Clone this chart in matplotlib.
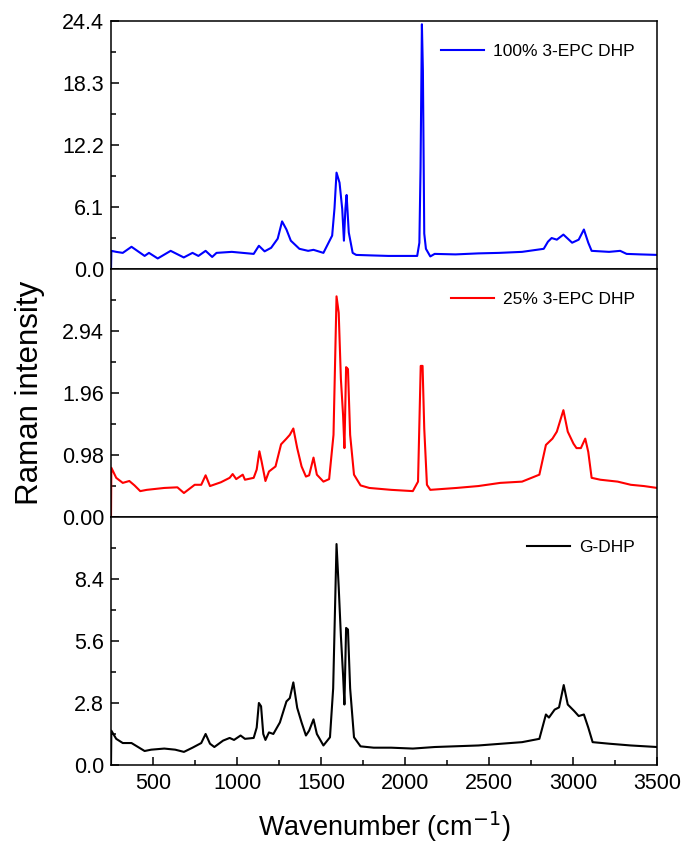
import matplotlib
matplotlib.use("Agg")
import matplotlib.pyplot as plt
from matplotlib.ticker import FixedLocator, FormatStrFormatter

plt.rcParams["font.family"] = ["Liberation Sans", "DejaVu Sans"]

# 100% 3-EPC DHP (blue)
wn_epc100 = [250, 252, 281, 320, 372, 450, 476, 528, 605, 683, 735, 770, 813, 852, 878,
             969, 1034, 1099, 1130, 1164, 1203, 1242, 1268, 1294, 1320, 1371, 1423, 1455,
             1514, 1566, 1580, 1592, 1610, 1626, 1636, 1645, 1652, 1665, 1688, 1709, 1800, 1900,
             2000, 2072, 2085, 2092, 2100, 2106, 2114, 2124, 2150, 2176, 2300, 2436, 2560,
             2696, 2825, 2850, 2872, 2903, 2942, 2994, 3033, 3064, 3090, 3110, 3214, 3280, 3318,
             3400, 3500]
int_epc100 = [0.0, 1.8, 1.7, 1.6, 2.2, 1.3, 1.6, 1.05, 1.8, 1.15, 1.6, 1.3, 1.8, 1.2, 1.6,
              1.7, 1.6, 1.5, 2.3, 1.75, 2.1, 3.0, 4.7, 3.9, 2.8, 2.0, 1.8, 1.9,
              1.6, 3.3, 6.0, 9.5, 8.5, 5.9, 2.8, 6.0, 7.3, 3.6, 1.6, 1.4, 1.35, 1.3,
              1.3, 1.3, 2.6, 10.0, 24.1, 19.5, 3.5, 2.0, 1.25, 1.5, 1.45, 1.55, 1.6,
              1.7, 2.0, 2.7, 3.06, 2.9, 3.4, 2.6, 2.9, 3.9, 2.6, 1.8, 1.7, 1.8, 1.5,
              1.45, 1.4]

# 25% 3-EPC DHP (red)
wn_epc25 = [250, 252, 281, 320, 359, 390, 424, 463, 567, 645, 684, 748, 787, 813, 839, 904,
            956, 974, 995, 1034, 1047, 1099, 1117, 1133, 1146, 1169, 1190, 1229, 1262, 1294,
            1314, 1335, 1358, 1384, 1410, 1429, 1455, 1475, 1514, 1548, 1574, 1592, 1605,
            1618, 1631, 1639, 1649, 1660, 1673, 1696, 1735, 1787, 1917, 2046, 2077, 2093,
            2104, 2114, 2130, 2150, 2306, 2436, 2566, 2696, 2799, 2838, 2877, 2903, 2942,
            2968, 3002, 3020, 3046, 3072, 3090, 3110, 3162, 3265, 3343, 3421, 3500]
int_epc25 = [0.0, 0.78, 0.62, 0.54, 0.57, 0.5, 0.41, 0.43, 0.46, 0.47, 0.38, 0.51, 0.51, 0.66, 0.49, 0.55,
             0.62, 0.68, 0.6, 0.67, 0.59, 0.62, 0.75, 1.04, 0.88, 0.57, 0.72, 0.8, 1.15, 1.24,
             1.3, 1.4, 1.09, 0.8, 0.64, 0.66, 0.94, 0.67, 0.56, 0.6, 1.3, 3.49, 3.23,
             2.18, 1.61, 1.09, 2.37, 2.34, 1.3, 0.67, 0.5, 0.46, 0.43, 0.41, 0.56, 2.39,
             2.39, 1.4, 0.51, 0.43, 0.46, 0.49, 0.54, 0.56, 0.67, 1.14, 1.24, 1.35, 1.69,
             1.35, 1.16, 1.09, 1.09, 1.24, 1.03, 0.62, 0.59, 0.56, 0.51, 0.49, 0.46]

# G-DHP (black)
wn_gdhp = [250, 252, 281, 320, 372, 411, 450, 489, 567, 632, 684, 735, 787, 813, 839, 865,
           917, 956, 982, 1021, 1047, 1099, 1117, 1130, 1143, 1156, 1169, 1190, 1216, 1255,
           1294, 1314, 1335, 1358, 1384, 1410, 1429, 1455, 1475, 1514, 1553, 1572, 1592,
           1605, 1618, 1631, 1639, 1649, 1660, 1673, 1696, 1735, 1813, 1917, 2046, 2176,
           2436, 2696, 2799, 2838, 2856, 2890, 2916, 2944, 2968, 3007, 3033, 3064, 3090,
           3116, 3214, 3343, 3500]
int_gdhp = [0.0, 1.55, 1.18, 0.99, 0.99, 0.81, 0.63, 0.69, 0.74, 0.69, 0.59, 0.78, 0.99, 1.4, 0.96, 0.81,
            1.1, 1.22, 1.13, 1.33, 1.18, 1.22, 1.69, 2.8, 2.65, 1.4, 1.13, 1.47, 1.4, 1.92,
            2.87, 3.02, 3.73, 2.58, 1.92, 1.33, 1.55, 2.06, 1.4, 0.88, 1.25, 3.46, 9.98,
            8.03, 5.82, 4.05, 2.73, 6.19, 6.12, 3.46, 1.25, 0.84, 0.78, 0.78, 0.74, 0.81,
            0.88, 1.03, 1.18, 2.28, 2.14, 2.5, 2.6, 3.61, 2.73, 2.43, 2.21, 2.28, 1.69,
            1.03, 0.96, 0.88, 0.81]

panels = [
    (wn_epc100, int_epc100, "#0000ff", "100% 3-EPC DHP", [0, 6.1, 12.2, 18.3, 24.4], 24.4, "%.1f"),
    (wn_epc25, int_epc25, "#ff0000", "25% 3-EPC DHP", [0, 0.98, 1.96, 2.94], 3.92, "%.2f"),
    (wn_gdhp, int_gdhp, "#000000", "G-DHP", [0, 2.8, 5.6, 8.4], 11.2, "%.1f"),
]

fig, axes = plt.subplots(3, 1, sharex=True, figsize=(6.81, 8.49), dpi=100)
fig.subplots_adjust(left=0.163, right=0.965, top=0.975, bottom=0.099, hspace=0)

for ax, (x, y, color, label, yticks, ytop, fmt) in zip(axes, panels):
    ax.plot(x, y, color=color, lw=1.5, label=label)
    ax.set_ylim(0, ytop)
    ax.set_xlim(250, 3500)
    ax.yaxis.set_major_locator(FixedLocator(yticks))
    step = yticks[1] - yticks[0]
    ax.yaxis.set_minor_locator(FixedLocator([step / 2 + step * i for i in range(4)]))
    ax.yaxis.set_major_formatter(FormatStrFormatter(fmt))
    ax.tick_params(axis="y", which="major", direction="in", length=6, width=1.1,
                   labelsize=15.5, pad=5)
    ax.tick_params(axis="y", which="minor", direction="in", length=3.5, width=1.1)
    for sp in ax.spines.values():
        sp.set_linewidth(1.1)
    ax.legend(loc="upper right", frameon=False, fontsize=12.5, handlelength=2.5,
              borderaxespad=0.9, handletextpad=0.5)

for ax in axes[:2]:
    ax.tick_params(axis="x", which="both", bottom=False, labelbottom=False)

ax = axes[2]
ax.xaxis.set_major_locator(FixedLocator([500, 1000, 1500, 2000, 2500, 3000, 3500]))
ax.xaxis.set_minor_locator(FixedLocator([750, 1250, 1750, 2250, 2750, 3250]))
ax.tick_params(axis="x", which="major", direction="in", length=6, width=1.1,
               labelsize=15.5, pad=6)
ax.tick_params(axis="x", which="minor", direction="in", length=3.5, width=1.1)
ax.set_xlabel("Wavenumber (cm$^{-1}$)", fontsize=19.5, labelpad=11)

fig.text(0.044, (0.975 + 0.099) / 2, "Raman intensity", rotation=90, fontsize=22.5,
         ha="center", va="center")

fig.savefig("out.png", dpi=100)
